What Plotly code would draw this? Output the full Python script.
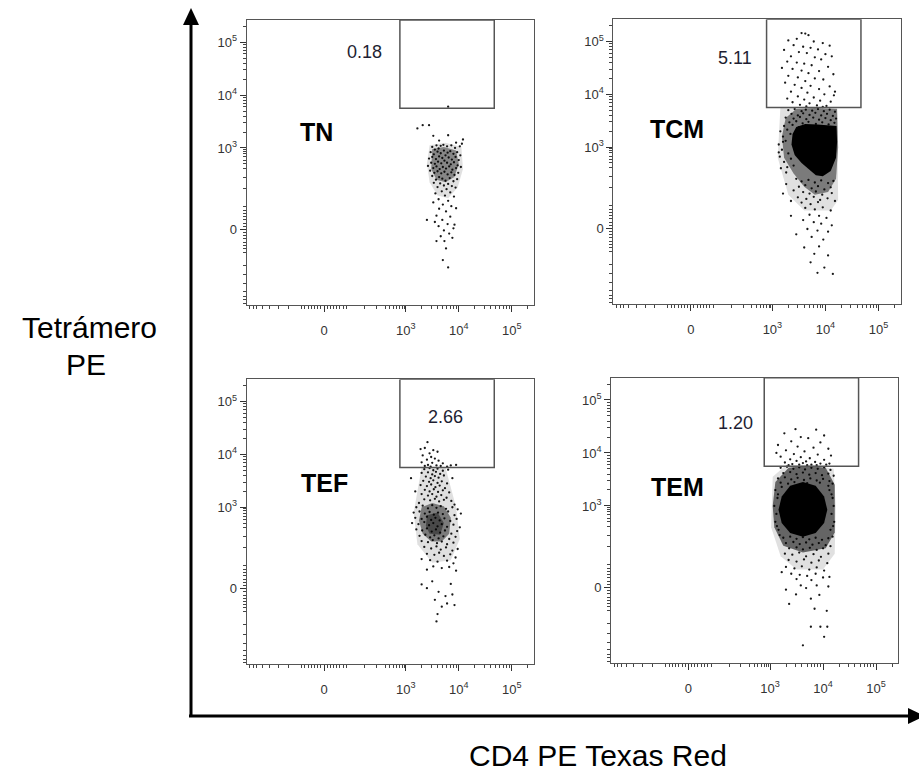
import plotly.graph_objects as go

# ---------------- data (display units = decades of the biexponential scale) -------------
major_vals = [1.46, 3, 4, 5]
major_text = ["0", "10<sup>3</sup>", "10<sup>4</sup>", "10<sup>5</sup>"]
minor_vals = [0.06, 0.13, 0.19, 0.29, 0.43, 0.60, 0.78, 1.03, 1.10, 1.16, 1.22, 1.28, 1.34, 1.40,
              1.52, 1.58, 1.64, 1.70, 1.76, 1.82, 1.89, 2.23, 2.45, 2.61, 2.70, 2.77, 2.83, 2.89,
              2.94, 2.97, 3.301, 3.477, 3.602, 3.699, 3.778, 3.845, 3.903, 3.954,
              4.301, 4.477, 4.602, 4.699, 4.778, 4.845, 4.903, 4.954, 5.301]

panel_names = ["TN", "TCM", "TEF", "TEM"]
panel_pcts = ["0.18", "5.11", "2.66", "1.20"]
gate_x = [2.89, 4.67]
gate_y = [3.75, 5.42]

tn_points = [
    (3.22,3.37),(3.32,3.43),(3.44,3.43),(3.52,3.23),(3.80,3.24),(4.08,3.16),(4.06,3.08),(3.63,3.14),(3.95,3.10),
    (3.50,3.02),(3.58,3.05),(3.66,3.04),(3.71,3.06),(3.78,3.03),(3.86,3.05),(3.93,3.00),(4.02,3.03),(3.55,2.97),(3.62,2.99),
    (3.47,2.92),(3.53,2.88),(3.60,2.93),(3.66,2.90),(3.72,2.95),(3.79,2.91),(3.84,2.94),(3.90,2.89),(3.97,2.92),(4.03,2.86),
    (3.44,2.80),(3.50,2.83),(3.57,2.79),(3.63,2.84),(3.69,2.81),(3.75,2.86),(3.81,2.82),(3.87,2.78),(3.94,2.83),(4.00,2.77),
    (3.48,2.72),(3.55,2.70),(3.61,2.74),(3.67,2.71),(3.73,2.76),(3.78,2.72),(3.85,2.69),(3.91,2.73),(3.98,2.67),(3.42,2.66),
    (3.52,2.62),(3.58,2.65),(3.64,2.60),(3.70,2.64),(3.76,2.61),(3.82,2.65),(3.88,2.59),(3.95,2.62),(4.04,2.64),(3.46,2.57),
    (3.54,2.53),(3.60,2.56),(3.67,2.52),(3.73,2.55),(3.79,2.50),(3.86,2.54),(3.92,2.49),(3.99,2.53),(3.50,2.47),(3.63,2.45),
    (3.57,2.40),(3.69,2.42),(3.75,2.38),(3.83,2.43),(3.90,2.37),(3.97,2.41),(3.53,2.34),(3.65,2.33),(3.72,2.29),(3.80,2.32),
    (3.87,2.28),(3.60,2.26),(3.77,2.22),(3.94,2.25),(3.68,2.18),(3.84,2.16),(3.56,2.14),(3.74,2.10),(3.91,2.08),(3.62,2.03),
    (3.80,2.00),(3.52,1.97),(3.70,1.93),(3.86,1.90),(3.95,1.86),(3.63,1.85),(3.76,1.80),(3.58,1.72),(3.84,1.70),(3.69,1.64),
    (3.40,1.64),(3.79,1.56),(3.62,1.52),(3.90,1.48),(3.72,1.44),(3.82,1.38),(3.66,1.33),(3.58,1.24),(3.73,1.24),(3.88,1.30),
    (3.76,1.10),(3.70,0.88),(3.80,0.74),(3.92,1.55),(3.55,1.60),(3.80,3.78),
]
tcm_points = [
    (3.55,5.16),(3.62,5.15),(3.68,5.12),(3.46,5.05),(3.30,5.02),(3.78,5.00),(3.95,4.97),(4.08,4.92),(3.40,4.93),(3.58,4.90),
    (3.72,4.88),(3.86,4.85),(3.22,4.84),(3.50,4.80),(3.65,4.78),(4.00,4.76),(4.12,4.72),(3.35,4.72),(3.80,4.70),(3.92,4.66),
    (3.28,4.62),(3.46,4.60),(3.60,4.58),(3.74,4.55),(4.05,4.52),(3.18,4.50),(3.38,4.48),(3.55,4.45),(3.88,4.44),(3.68,4.40),
    (4.15,4.38),(3.30,4.35),(3.48,4.32),(3.80,4.30),(3.96,4.28),(3.62,4.25),(3.24,4.22),(3.42,4.18),(3.72,4.16),(4.08,4.15),
    (3.55,4.12),(3.88,4.10),(3.35,4.05),(3.66,4.03),(3.98,4.00),(4.16,3.98),(3.48,3.96),(3.78,3.94),(3.60,3.90),(3.90,3.88),
    (4.10,3.86),(3.38,3.85),(3.70,3.83),(3.52,3.80),(3.84,3.79),(4.02,3.78),(3.64,3.77),(3.95,3.76),(3.28,3.92),(4.18,4.05),
    (3.30,3.70),(3.42,3.72),(3.55,3.68),(3.63,3.71),(3.75,3.69),(3.86,3.72),(3.97,3.68),(4.08,3.71),(4.18,3.67),(3.36,3.63),
    (3.48,3.60),(3.58,3.64),(3.70,3.61),(3.81,3.65),(3.92,3.60),(4.03,3.63),(4.14,3.59),(3.25,3.56),(3.40,3.54),(3.52,3.57),
    (3.64,3.53),(3.77,3.56),(3.88,3.52),(4.00,3.55),(4.10,3.51),(4.20,3.54),(3.32,3.47),(3.45,3.49),(3.57,3.45),(3.68,3.48),
    (3.82,3.44),(3.94,3.47),(4.06,3.43),(4.17,3.46),(3.22,3.40),(3.38,3.42),(3.50,3.38),(3.15,3.30),(3.28,3.33),(3.20,3.20),
    (3.12,3.05),(3.18,2.95),(3.25,3.12),(3.30,2.88),(3.14,2.82),(3.22,2.72),(3.35,2.78),(3.28,2.62),(3.12,2.90),(3.34,3.25),
    (3.20,3.10),(3.16,2.60),(3.40,2.65),(3.26,2.52),
    (3.45,2.40),(3.55,2.35),(3.68,2.38),(3.80,2.33),(3.92,2.37),(4.05,2.32),(4.15,2.36),(3.50,2.25),(3.62,2.28),(3.74,2.22),
    (3.86,2.26),(3.98,2.20),(4.10,2.24),(3.40,2.18),(3.58,2.15),(3.70,2.12),(3.82,2.16),(3.94,2.10),(4.12,2.13),(3.48,2.05),
    (3.64,2.02),(3.78,2.06),(3.90,2.00),(4.04,2.03),(3.55,1.95),(3.72,1.92),(3.86,1.96),(4.18,1.98),(3.26,2.30),(3.20,2.12),
    (3.35,1.98),
    (3.62,1.85),(3.80,1.82),(3.95,1.86),(4.10,1.80),(3.70,1.72),(3.88,1.70),(4.02,1.66),(3.58,1.62),(3.78,1.58),(3.92,1.55),
    (4.12,1.52),(3.66,1.45),(3.85,1.42),(4.05,1.40),(3.74,1.30),(3.96,1.25),(3.60,1.10),(3.88,1.12),(3.79,0.98),(4.05,0.95),
    (3.72,0.82),(3.98,0.72),(3.85,0.62),(4.14,0.60),(3.45,1.35),(3.35,1.70),
]
tef_points = [
    (3.41,4.23),(3.28,4.10),(3.36,4.12),(3.52,4.08),(3.45,4.02),(3.60,4.05),(3.32,3.98),(3.48,3.95),(3.55,3.92),(3.40,3.90),
    (3.62,3.88),(3.30,3.85),(3.50,3.84),(3.70,3.83),(3.42,3.80),(3.58,3.79),(3.85,3.79),(3.95,3.80),(3.36,3.78),(3.66,3.78),
    (3.78,3.77),(3.47,3.77),
    (3.35,3.72),(3.45,3.74),(3.52,3.70),(3.60,3.73),(3.70,3.69),(3.80,3.71),(3.30,3.65),(3.42,3.66),(3.50,3.62),(3.57,3.67),
    (3.65,3.63),(3.38,3.58),(3.47,3.55),(3.55,3.59),(3.62,3.56),(3.72,3.60),(3.33,3.50),(3.44,3.48),(3.52,3.51),(3.60,3.46),
    (3.68,3.49),(3.78,3.45),(3.28,3.42),(3.40,3.40),(3.48,3.43),(3.56,3.38),(3.64,3.41),(3.74,3.36),(3.36,3.33),(3.45,3.30),
    (3.53,3.34),(3.61,3.29),(3.70,3.32),(3.82,3.28),(3.30,3.25),(3.42,3.22),(3.50,3.25),(3.58,3.20),(3.67,3.23),(3.77,3.18),
    (3.35,3.15),(3.46,3.13),(3.55,3.16),(3.63,3.11),(3.72,3.14),(3.86,3.12),(3.25,3.08),(3.92,3.05),(3.18,3.30),(3.10,3.55),
    (3.88,3.55),
    (3.20,3.00),(3.32,3.03),(3.42,2.98),(3.50,3.04),(3.58,2.99),(3.66,3.02),(3.76,2.97),(3.88,3.00),(3.98,2.96),(3.15,2.90),
    (3.26,2.92),(3.36,2.88),(3.45,2.91),(3.53,2.86),(3.61,2.90),(3.70,2.87),(3.80,2.92),(3.92,2.85),(4.04,2.88),(3.18,2.80),
    (3.30,2.78),(3.40,2.82),(3.48,2.76),(3.56,2.80),(3.64,2.75),(3.73,2.79),(3.84,2.74),(3.96,2.78),(3.12,2.70),(3.24,2.68),
    (3.35,2.72),(3.44,2.66),(3.52,2.70),(3.60,2.64),(3.68,2.68),(3.78,2.63),(3.90,2.67),(4.02,2.62),(3.20,2.58),(3.31,2.56),
    (3.40,2.60),(3.49,2.54),(3.57,2.58),(3.65,2.52),(3.74,2.56),(3.86,2.50),(3.97,2.55),(3.26,2.46),(3.37,2.48),(3.46,2.43),
    (3.54,2.47),(3.62,2.41),(3.71,2.45),(3.82,2.40),(3.94,2.44),(3.30,2.36),(3.42,2.34),(3.51,2.38),(3.59,2.32),(3.68,2.35),
    (3.78,2.30),(3.90,2.33),
    (3.35,2.25),(3.48,2.22),(3.58,2.26),(3.66,2.20),(3.76,2.24),(3.88,2.18),(3.98,2.21),(3.40,2.12),(3.54,2.10),(3.63,2.14),
    (3.72,2.08),(3.84,2.11),(3.94,2.05),(3.30,2.02),(3.46,2.00),(3.60,1.97),(3.78,1.99),(3.90,1.94),(3.52,1.88),(3.68,1.85),
    (3.82,1.87),(3.40,1.82),(3.95,1.80),
    (3.30,1.54),(3.40,1.47),(3.50,1.60),(3.62,1.40),(3.75,1.32),(3.85,1.55),(3.55,1.25),(3.78,1.18),(3.68,1.12),(3.92,1.15),
    (3.60,0.98),(3.58,0.84),(3.88,1.35),
]
tem_points = [
    (3.87,4.44),(3.27,4.37),(4.02,4.33),(3.58,4.30),(3.72,4.28),(3.40,4.22),(3.95,4.20),(3.15,4.15),(3.52,4.12),(3.82,4.10),
    (4.10,4.08),(3.30,4.05),(3.65,4.03),(3.45,3.98),(3.90,3.97),(4.15,3.95),(3.20,3.93),(3.58,3.92),(3.75,3.90),(3.38,3.88),
    (4.02,3.87),(3.50,3.85),(3.68,3.84),(3.85,3.83),(3.28,3.82),(3.62,3.81),(3.95,3.80),(4.12,3.80),(3.42,3.79),(3.55,3.78),
    (3.78,3.78),(3.70,3.77),(3.88,3.77),(3.35,3.77),(4.06,3.78),(3.48,4.45),(3.12,4.00),
    (3.20,3.72),(3.32,3.74),(3.44,3.70),(3.55,3.73),(3.66,3.69),(3.78,3.72),(3.90,3.70),(4.02,3.73),(4.14,3.68),(3.25,3.62),
    (3.38,3.64),(3.50,3.60),(3.62,3.63),(3.74,3.59),(3.86,3.62),(3.98,3.58),(4.10,3.61),(4.20,3.57),(3.15,3.52),(3.28,3.54),
    (3.40,3.50),(3.52,3.53),(3.64,3.49),(3.76,3.52),(3.88,3.48),(4.00,3.51),(4.12,3.47),(3.20,3.44),(3.34,3.42),(3.46,3.45),
    (3.70,3.43),(3.94,3.44),(4.18,3.42),
    (3.10,3.30),(3.14,3.15),(3.08,3.00),(3.12,2.85),(3.10,2.70),(3.16,2.55),(3.22,3.36),(3.18,2.45),(4.12,3.30),(4.18,3.15),
    (4.20,3.00),(4.16,2.85),(4.21,2.70),(4.14,2.55),(4.10,3.38),(4.18,2.42),(3.15,3.22),(3.13,2.62),(4.16,3.22),(4.19,2.62),
    (3.25,2.40),(3.38,2.42),(3.50,2.38),(3.62,2.41),(3.74,2.37),(3.86,2.40),(3.98,2.36),(4.10,2.39),(3.30,2.30),(3.44,2.32),
    (3.56,2.28),(3.68,2.31),(3.80,2.27),(3.92,2.30),(4.05,2.26),(3.36,2.20),(3.50,2.22),(3.62,2.18),(3.75,2.21),(3.88,2.17),
    (4.00,2.20),(4.14,2.24),
    (3.28,2.10),(3.42,2.08),(3.55,2.12),(3.68,2.05),(3.82,2.09),(3.96,2.04),(4.10,2.10),(3.35,1.98),(3.50,1.95),(3.64,1.99),
    (3.78,1.93),(3.92,1.97),(4.08,1.92),(3.30,1.85),(3.46,1.82),(3.60,1.86),(3.74,1.80),(3.88,1.84),(4.02,1.78),(3.40,1.72),
    (3.56,1.70),(3.70,1.68),(3.86,1.72),(4.00,1.65),(3.22,1.75),(3.50,1.62),(3.78,1.60),(4.12,1.66),
    (3.49,1.33),(3.68,1.45),(3.93,1.32),(3.77,1.25),(3.84,1.06),(3.36,1.15),(4.07,1.02),(3.77,0.72),(3.95,0.72),(4.08,0.72),
    (4.02,0.53),(3.62,0.37),(3.58,1.50),(3.88,1.50),(3.30,1.42),(4.10,1.48),
]

# dense regions of each population (outlines), outermost first
tn_dense = [
    [(3.45,3.05),(3.75,3.10),(4.05,3.02),(4.08,2.60),(3.98,2.25),(3.80,2.05),(3.60,2.10),(3.45,2.35),(3.40,2.70)],
    [(3.50,2.98),(3.72,3.02),(3.95,2.95),(4.00,2.70),(3.92,2.45),(3.75,2.35),(3.58,2.40),(3.48,2.60)],
]
tcm_dense = [
    [(3.15,3.74),(4.22,3.74),(4.24,2.00),(4.10,1.80),(3.60,1.80),(3.30,2.10),(3.10,2.80)],
    [(3.25,3.55),(3.45,3.72),(3.80,3.74),(4.22,3.72),(4.24,3.00),(4.20,2.40),(4.05,2.15),(3.80,2.10),
     (3.60,2.25),(3.40,2.50),(3.22,2.80),(3.18,3.20)],
    [(3.45,3.38),(3.62,3.44),(3.85,3.43),(4.05,3.42),(4.21,3.40),(4.22,3.10),(4.20,2.80),(4.10,2.55),
     (3.95,2.45),(3.82,2.47),(3.70,2.58),(3.55,2.70),(3.42,2.85),(3.36,3.05),(3.38,3.25)],
]
tef_dense = [
    [(3.30,3.75),(3.75,3.75),(3.95,3.00),(4.02,2.40),(3.85,2.00),(3.50,1.95),(3.22,2.30),(3.15,2.90)],
    [(3.30,3.00),(3.50,3.08),(3.72,3.02),(3.85,2.80),(3.82,2.50),(3.68,2.35),(3.48,2.35),(3.32,2.50),(3.25,2.75)],
    [(3.40,2.85),(3.60,2.90),(3.72,2.70),(3.65,2.48),(3.45,2.50),(3.38,2.65)],
]
tem_dense = [
    [(3.05,3.55),(3.30,3.77),(3.80,3.78),(4.20,3.70),(4.24,3.00),(4.22,2.10),(4.00,1.80),(3.50,1.80),
     (3.20,2.05),(3.02,2.60)],
    [(3.10,3.45),(3.35,3.72),(3.70,3.76),(4.05,3.72),(4.22,3.40),(4.22,2.50),(4.05,2.20),(3.62,2.12),
     (3.25,2.25),(3.08,2.60),(3.05,3.00)],
    [(4.08,2.93),(4.02,3.18),(3.86,3.38),(3.62,3.45),(3.38,3.38),(3.22,3.18),(3.16,2.93),(3.22,2.68),
     (3.38,2.49),(3.62,2.42),(3.86,2.49),(4.02,2.68)],
]
dense_alpha = {"TN": [0.12, 0.40], "TCM": [0.12, 0.45, 1.0], "TEF": [0.12, 0.45, 0.4], "TEM": [0.12, 0.55, 1.0]}

all_points = [tn_points, tcm_points, tef_points, tem_points]
all_dense = [tn_dense, tcm_dense, tef_dense, tem_dense]

# ---------------- layout geometry ----------------
W, H = 919, 772
FONT = "Liberation Sans, Arial, sans-serif"
domains = [
    ([0.2684, 0.5811], [0.6049, 0.9741]),
    ([0.6674, 0.9801], [0.6062, 0.9750]),
    ([0.2684, 0.5811], [0.1395, 0.5087]),
    ([0.6649, 0.9775], [0.1408, 0.5107]),
]
name_pos = [(1.31, 3.30), (1.20, 3.35), (1.46, 3.46), (1.26, 3.36)]
pct_pos = [(2.22, 4.81), (2.30, 4.69), (3.75, 4.71), (2.34, 4.57)]
x_range = [0, 5.42]
y_range = [0.03, 5.42]

fig = go.Figure()
layout = dict(
    width=W, height=H, margin=dict(l=0, r=0, t=0, b=0),
    paper_bgcolor="white", plot_bgcolor="white", showlegend=False,
    font=dict(family=FONT, color="#222"),
)
annotations = []
for i in range(4):
    k = i + 1
    xa, ya = f"x{k}", f"y{k}"
    common = dict(
        tickmode="array", tickvals=major_vals, ticktext=major_text,
        ticks="outside", ticklen=6, tickwidth=1, tickcolor="#333",
        showline=True, linecolor="#555", linewidth=1, mirror=True,
        showgrid=False, zeroline=False, fixedrange=True,
        tickfont=dict(size=13, color="#333", family=FONT),
        minor=dict(tickmode="array", tickvals=minor_vals, ticklen=3, ticks="outside",
                   tickcolor="#444", tickwidth=1, showgrid=False),
    )
    xd, yd = domains[i]
    layout[f"xaxis{k}"] = dict(common, domain=xd, range=x_range, anchor=ya, ticklabelstandoff=7)
    layout[f"yaxis{k}"] = dict(common, domain=yd, range=y_range, anchor=xa)

    for poly, a in zip(all_dense[i], dense_alpha[panel_names[i]]):
        px_, py_ = zip(*poly)
        fig.add_trace(go.Scatter(x=list(px_) + [px_[0]], y=list(py_) + [py_[0]], xaxis=xa, yaxis=ya,
                                 mode="lines", line=dict(width=0), fill="toself",
                                 fillcolor=f"rgba(0,0,0,{a})", hoverinfo="skip"))
    ex, ey = zip(*all_points[i])
    fig.add_trace(go.Scatter(x=ex, y=ey, xaxis=xa, yaxis=ya, mode="markers",
                             marker=dict(size=2.3, color="black", opacity=0.9), hoverinfo="skip"))
    fig.add_trace(go.Scatter(x=[gate_x[0], gate_x[0], gate_x[1], gate_x[1], gate_x[0]],
                             y=[gate_y[1], gate_y[0], gate_y[0], gate_y[1], gate_y[1]],
                             xaxis=xa, yaxis=ya, mode="lines",
                             line=dict(color="#555", width=1.5), hoverinfo="skip"))
    annotations.append(dict(x=name_pos[i][0], y=name_pos[i][1], xref=xa, yref=ya,
                            text=f"<b>{panel_names[i]}</b>", showarrow=False,
                            xanchor="center", yanchor="middle",
                            font=dict(size=25, color="black", family=FONT)))
    annotations.append(dict(x=pct_pos[i][0], y=pct_pos[i][1], xref=xa, yref=ya, text=panel_pcts[i],
                            showarrow=False, xanchor="center", yanchor="middle",
                            font=dict(size=18, color="#1e1e32", family=FONT)))

annotations += [
    dict(x=89 / W, y=1 - 328 / H, xref="paper", yref="paper", text="Tetrámero", showarrow=False,
         xanchor="center", yanchor="middle", font=dict(size=30, color="black", family=FONT)),
    dict(x=86 / W, y=1 - 364 / H, xref="paper", yref="paper", text="PE", showarrow=False,
         xanchor="center", yanchor="middle", font=dict(size=30, color="black", family=FONT)),
    dict(x=598 / W, y=1 - 755 / H, xref="paper", yref="paper", text="CD4 PE Texas Red", showarrow=False,
         xanchor="center", yanchor="middle", font=dict(size=30, color="black", family=FONT)),
]
layout["annotations"] = annotations

# big axis arrows
vx, hy = 191 / W, 1 - 716 / H
shapes = [
    dict(type="line", xref="paper", yref="paper", x0=vx, x1=vx, y0=hy, y1=1 - 22 / H,
         line=dict(color="black", width=3)),
    dict(type="path", xref="paper", yref="paper", fillcolor="black", line=dict(width=0),
         path=f"M {183/W} {1-25/H} L {vx} {1-8/H} L {199/W} {1-25/H} Z"),
    dict(type="line", xref="paper", yref="paper", x0=189 / W, x1=908 / W, y0=hy, y1=hy,
         line=dict(color="black", width=3)),
    dict(type="path", xref="paper", yref="paper", fillcolor="black", line=dict(width=0),
         path=f"M {908/W} {1-708/H} L {925/W} {hy} L {908/W} {1-724/H} Z"),
]
layout["shapes"] = shapes
fig.update_layout(**layout)
fig.write_html("out.html")
